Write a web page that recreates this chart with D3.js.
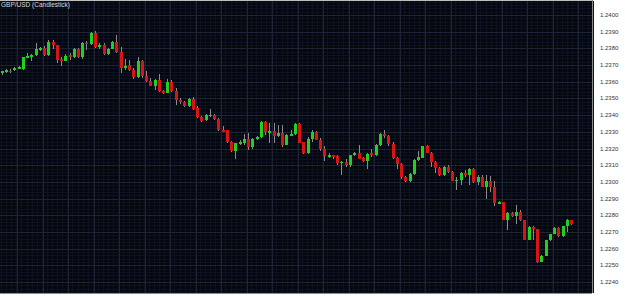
<!DOCTYPE html>
<html>
<head>
<meta charset="utf-8">
<script src="https://cdn.jsdelivr.net/npm/d3@7"></script>
<style>
  html, body { margin: 0; padding: 0; background: #fff; }
  svg { display: block; }
</style>
</head>
<body>
<svg id="chart" width="625" height="296"></svg>
<script>
const title = "GBP/USD (Candlestick)";

const open = [
  1.23650, 1.23658, 1.23666, 1.23670, 1.23682, 1.23676, 1.23746, 1.23750, 1.23760, 1.23794,
  1.23802, 1.23758, 1.23838, 1.23818, 1.23734, 1.23726, 1.23758, 1.23748, 1.23798, 1.23746,
  1.23834, 1.23826, 1.23890, 1.23806, 1.23818, 1.23766, 1.23798, 1.23836, 1.23780, 1.23680,
  1.23698, 1.23668, 1.23628, 1.23724, 1.23636, 1.23606, 1.23576, 1.23612, 1.23544, 1.23535,
  1.23601, 1.23544, 1.23493, 1.23478, 1.23454, 1.23496, 1.23440, 1.23388, 1.23370, 1.23398,
  1.23402, 1.23374, 1.23310, 1.23308, 1.23238, 1.23186, 1.23230, 1.23230, 1.23254, 1.23206,
  1.23254, 1.23266, 1.23358, 1.23298, 1.23302, 1.23274, 1.23290, 1.23222, 1.23282, 1.23286,
  1.23346, 1.23236, 1.23175, 1.23254, 1.23296, 1.23252, 1.23200, 1.23156, 1.23160, 1.23154,
  1.23116, 1.23122, 1.23100, 1.23160, 1.23172, 1.23142, 1.23124, 1.23172, 1.23160, 1.23220,
  1.23284, 1.23272, 1.23224, 1.23145, 1.23108, 1.23030, 1.23008, 1.23048, 1.23132, 1.23146,
  1.23212, 1.23176, 1.23120, 1.23084, 1.23040, 1.23090, 1.23060, 1.23008, 1.23012, 1.23056,
  1.23040, 1.23080, 1.23000, 1.23030, 1.22972, 1.23006, 1.22972, 1.22875, 1.22878, 1.22774,
  1.22814, 1.22796, 1.22822, 1.22770, 1.22654, 1.22730, 1.22716, 1.22522, 1.22558, 1.22650,
  1.22690, 1.22726, 1.22674, 1.22734, 1.22770
];
const high = [
  1.23666, 1.23676, 1.23676, 1.23690, 1.23692, 1.23750, 1.23770, 1.23766, 1.23834, 1.23810,
  1.23814, 1.23850, 1.23850, 1.23822, 1.23750, 1.23766, 1.23770, 1.23804, 1.23804, 1.23838,
  1.23842, 1.23898, 1.23902, 1.23830, 1.23830, 1.23804, 1.23842, 1.23880, 1.23808, 1.23736,
  1.23728, 1.23680, 1.23748, 1.23728, 1.23664, 1.23620, 1.23616, 1.23648, 1.23550, 1.23616,
  1.23610, 1.23562, 1.23504, 1.23484, 1.23502, 1.23508, 1.23454, 1.23394, 1.23406, 1.23434,
  1.23408, 1.23380, 1.23334, 1.23312, 1.23242, 1.23234, 1.23250, 1.23286, 1.23290, 1.23260,
  1.23272, 1.23364, 1.23362, 1.23354, 1.23350, 1.23338, 1.23342, 1.23288, 1.23310, 1.23354,
  1.23350, 1.23240, 1.23270, 1.23308, 1.23302, 1.23264, 1.23216, 1.23172, 1.23164, 1.23160,
  1.23124, 1.23136, 1.23164, 1.23178, 1.23220, 1.23152, 1.23176, 1.23200, 1.23226, 1.23290,
  1.23312, 1.23280, 1.23236, 1.23152, 1.23112, 1.23036, 1.23052, 1.23136, 1.23184, 1.23216,
  1.23220, 1.23178, 1.23128, 1.23092, 1.23094, 1.23100, 1.23068, 1.23028, 1.23060, 1.23072,
  1.23084, 1.23084, 1.23040, 1.23040, 1.23040, 1.23036, 1.23006, 1.22886, 1.22882, 1.22822,
  1.22822, 1.22862, 1.22830, 1.22774, 1.22734, 1.22738, 1.22720, 1.22562, 1.22654, 1.22690,
  1.22730, 1.22730, 1.22738, 1.22778, 1.22774
];
const low = [
  1.23642, 1.23652, 1.23650, 1.23662, 1.23676, 1.23672, 1.23742, 1.23724, 1.23756, 1.23782,
  1.23754, 1.23754, 1.23798, 1.23714, 1.23694, 1.23722, 1.23730, 1.23742, 1.23740, 1.23734,
  1.23790, 1.23822, 1.23802, 1.23798, 1.23758, 1.23760, 1.23794, 1.23770, 1.23655, 1.23670,
  1.23664, 1.23616, 1.23624, 1.23624, 1.23596, 1.23572, 1.23550, 1.23540, 1.23526, 1.23532,
  1.23538, 1.23460, 1.23468, 1.23448, 1.23448, 1.23430, 1.23380, 1.23358, 1.23364, 1.23386,
  1.23370, 1.23306, 1.23298, 1.23234, 1.23182, 1.23138, 1.23218, 1.23218, 1.23190, 1.23200,
  1.23250, 1.23262, 1.23282, 1.23234, 1.23230, 1.23270, 1.23210, 1.23218, 1.23280, 1.23282,
  1.23230, 1.23166, 1.23170, 1.23240, 1.23248, 1.23184, 1.23128, 1.23144, 1.23136, 1.23104,
  1.23040, 1.23088, 1.23088, 1.23156, 1.23136, 1.23120, 1.23080, 1.23152, 1.23156, 1.23216,
  1.23264, 1.23216, 1.23136, 1.23076, 1.23016, 1.23002, 1.23000, 1.23044, 1.23128, 1.23142,
  1.23172, 1.23088, 1.23056, 1.23036, 1.23036, 1.23056, 1.23004, 1.22952, 1.22980, 1.23032,
  1.22984, 1.22996, 1.22984, 1.22968, 1.22900, 1.22940, 1.22858, 1.22868, 1.22770, 1.22714,
  1.22790, 1.22750, 1.22766, 1.22650, 1.22650, 1.22650, 1.22516, 1.22518, 1.22554, 1.22646,
  1.22686, 1.22670, 1.22670, 1.22702, 1.22742
];
const close = [
  1.23662, 1.23670, 1.23664, 1.23682, 1.23686, 1.23746, 1.23754, 1.23762, 1.23794, 1.23802,
  1.23758, 1.23838, 1.23818, 1.23730, 1.23722, 1.23754, 1.23750, 1.23798, 1.23746, 1.23834,
  1.23826, 1.23890, 1.23806, 1.23818, 1.23766, 1.23798, 1.23836, 1.23780, 1.23680, 1.23697,
  1.23668, 1.23628, 1.23724, 1.23636, 1.23604, 1.23576, 1.23610, 1.23544, 1.23535, 1.23601,
  1.23544, 1.23493, 1.23478, 1.23454, 1.23496, 1.23439, 1.23388, 1.23364, 1.23398, 1.23402,
  1.23374, 1.23310, 1.23306, 1.23238, 1.23186, 1.23230, 1.23236, 1.23254, 1.23206, 1.23254,
  1.23266, 1.23358, 1.23298, 1.23302, 1.23274, 1.23294, 1.23222, 1.23282, 1.23286, 1.23346,
  1.23234, 1.23175, 1.23254, 1.23296, 1.23252, 1.23200, 1.23156, 1.23160, 1.23156, 1.23116,
  1.23120, 1.23100, 1.23160, 1.23172, 1.23140, 1.23124, 1.23168, 1.23160, 1.23220, 1.23284,
  1.23272, 1.23224, 1.23145, 1.23108, 1.23028, 1.23008, 1.23048, 1.23132, 1.23148, 1.23212,
  1.23176, 1.23120, 1.23084, 1.23040, 1.23088, 1.23060, 1.23008, 1.23014, 1.23056, 1.23040,
  1.23080, 1.23000, 1.23032, 1.22972, 1.23008, 1.22972, 1.22875, 1.22878, 1.22774, 1.22814,
  1.22798, 1.22822, 1.22770, 1.22654, 1.22730, 1.22718, 1.22522, 1.22558, 1.22650, 1.22686,
  1.22726, 1.22674, 1.22734, 1.22770, 1.22746
];

const yTicks = [1.2240, 1.2250, 1.2260, 1.2270, 1.2280, 1.2290, 1.2300, 1.2310, 1.2320,
  1.2330, 1.2340, 1.2350, 1.2360, 1.2370, 1.2380, 1.2390, 1.2400];

const W = 625, H = 296;
const plot = { left: 0, top: 1, right: 592, bottom: 293 };

const svg = d3.select("#chart");

const candles = open.map((o, i) => ({ i, o, h: high[i], l: low[i], c: close[i] }));

const x = d3.scaleLinear().domain([0, 134]).range([1.5, 571]);
const y = d3.scaleLinear().domain([1.2240, 1.2400]).range([282, 15]);

// background
svg.append("rect").attr("width", W).attr("height", H).attr("fill", "#ffffff");
svg.append("rect")
  .attr("x", plot.left).attr("y", plot.top)
  .attr("width", plot.right - plot.left).attr("height", plot.bottom - plot.top)
  .attr("fill", "#05070e");

const grid = svg.append("g").attr("shape-rendering", "crispEdges");

// minor horizontal lines every 2 pips
const minorY = d3.range(1.2234, 1.2410, 0.0002);
grid.selectAll(".hmin").data(minorY).join("line")
  .attr("x1", plot.left).attr("x2", plot.right)
  .attr("y1", d => Math.round(y(d)) + 0.5).attr("y2", d => Math.round(y(d)) + 0.5)
  .attr("stroke", "#0e1220");

// minor vertical lines
const minorX = d3.range(-0.1, 140, 1.2);
grid.selectAll(".vmin").data(minorX).join("line")
  .attr("x1", d => Math.round(x(d)) + 0.5).attr("x2", d => Math.round(x(d)) + 0.5)
  .attr("y1", plot.top).attr("y2", plot.bottom)
  .attr("stroke", "#0e1220");

// major lines
grid.selectAll(".hmaj").data(yTicks).join("line")
  .attr("x1", plot.left).attr("x2", plot.right)
  .attr("y1", d => Math.round(y(d)) + 0.5).attr("y2", d => Math.round(y(d)) + 0.5)
  .attr("stroke", "#1e2434");

const majorX = d3.range(3.7, 140, 6);
grid.selectAll(".vmaj").data(majorX).join("line")
  .attr("x1", d => Math.round(x(d)) + 0.5).attr("x2", d => Math.round(x(d)) + 0.5)
  .attr("y1", plot.top).attr("y2", plot.bottom)
  .attr("stroke", "#1e2434");

// frame
svg.append("line").attr("x1", 0).attr("x2", plot.right).attr("y1", 0.5).attr("y2", 0.5)
  .attr("stroke", "#bfbfbf");
svg.append("line").attr("x1", 0).attr("x2", plot.right).attr("y1", plot.bottom + 0.5).attr("y2", plot.bottom + 0.5)
  .attr("stroke", "#8a8a8a");
svg.append("line").attr("x1", plot.right + 0.5).attr("x2", plot.right + 0.5).attr("y1", 0).attr("y2", plot.bottom)
  .attr("stroke", "#8a8a8a");

// candles
const cg = svg.append("g").attr("shape-rendering", "crispEdges");
const bodyW = 3;
const up = "#1fd21f", down = "#d81414";

cg.selectAll(".wick").data(candles).join("line")
  .attr("x1", d => Math.round(x(d.i)) + 0.5).attr("x2", d => Math.round(x(d.i)) + 0.5)
  .attr("y1", d => y(d.h)).attr("y2", d => y(d.l))
  .attr("stroke", "#8c8c8c");

cg.selectAll(".body").data(candles).join("rect")
  .attr("x", d => Math.round(x(d.i)) - 1)
  .attr("y", d => y(Math.max(d.o, d.c)))
  .attr("width", bodyW)
  .attr("height", d => Math.max(1.5, Math.abs(y(d.o) - y(d.c))))
  .attr("fill", d => d.c >= d.o ? up : down);

// axis labels
svg.append("g").selectAll("text").data(yTicks).join("text")
  .attr("x", 600).attr("y", d => y(d) + 2)
  .attr("font-family", "Liberation Sans, Arial, sans-serif")
  .attr("font-size", 6)
  .attr("fill", "#333")
  .text(d => d.toFixed(4));

svg.append("text")
  .attr("x", 1).attr("y", 7)
  .attr("font-family", "Liberation Sans, Arial, sans-serif")
  .attr("font-size", 6.5)
  .attr("fill", "#d8d8d8")
  .text(title);
</script>
</body>
</html>
